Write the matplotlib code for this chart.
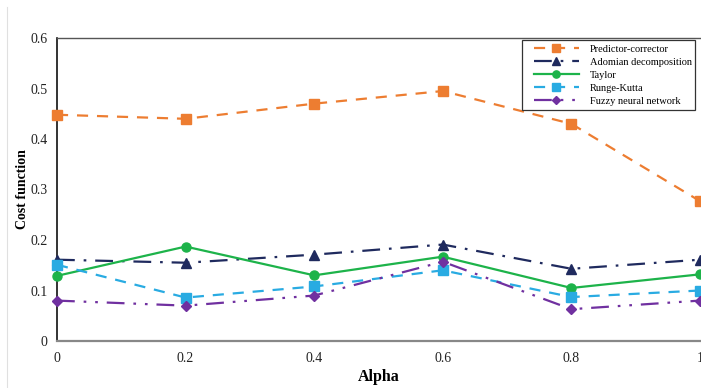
import matplotlib
matplotlib.use("Agg")
import matplotlib.pyplot as plt
from matplotlib.lines import Line2D
from matplotlib.patches import Rectangle

plt.rcParams['font.family'] = ['Liberation Serif', 'DejaVu Serif']

alpha = [0, 0.2, 0.4, 0.6, 0.8, 1.0]
predictor_corrector = [0.448, 0.440, 0.470, 0.495, 0.430, 0.277]
adomian = [0.161, 0.155, 0.171, 0.191, 0.143, 0.161]
taylor = [0.129, 0.187, 0.130, 0.167, 0.105, 0.132]
runge_kutta = [0.151, 0.086, 0.108, 0.140, 0.087, 0.100]
fuzzy_nn = [0.080, 0.070, 0.090, 0.157, 0.063, 0.080]

xticks = [0, 0.2, 0.4, 0.6, 0.8, 1]
xticklabels = ["0", "0.2", "0.4", "0.6", "0.8", "1"]
yticks = [0, 0.1, 0.2, 0.3, 0.4, 0.5, 0.6]
yticklabels = ["0", "0.1", "0.2", "0.3", "0.4", "0.5", "0.6"]

W, H = 701, 388
fig = plt.figure(figsize=(W/100, H/100), dpi=100)
ax = fig.add_axes([57/W, 47/H, 643/W, 303/H])

# faint frame line at left
fig.add_artist(Line2D([7/W, 7/W], [0, 381/H], color='#e0e0e0', lw=0.8, transform=fig.transFigure))

ax.plot(alpha, predictor_corrector, color='#ED7D31', lw=1.6, ls=(0, (5, 4)),
        marker='s', ms=6.5, label='Predictor-corrector', clip_on=False, zorder=3)
ax.plot(alpha, adomian, color='#1F2A5E', lw=1.6, ls=(0, (8, 4, 1.2, 4)),
        marker='^', ms=6.5, label='Adomian decomposition', clip_on=False, zorder=3)
ax.plot(alpha, taylor, color='#1DB34A', lw=1.6, ls='-',
        marker='o', ms=6.5, label='Taylor', clip_on=False, zorder=3)
ax.plot(alpha, runge_kutta, color='#29ABE2', lw=1.6, ls=(0, (5, 4)),
        marker='s', ms=6.5, label='Runge-Kutta', clip_on=False, zorder=3)
ax.plot(alpha, fuzzy_nn, color='#7030A0', lw=1.6, ls=(0, (8, 4, 1.2, 4, 1.2, 4)),
        marker='D', ms=5.5, label='Fuzzy neural network', clip_on=False, zorder=3)

ax.set_xlim(0, 1)
ax.set_ylim(0, 0.6)
ax.set_xticks(xticks)
ax.set_xticklabels(xticklabels)
ax.set_yticks(yticks)
ax.set_yticklabels(yticklabels)
ax.tick_params(axis='both', length=0, labelsize=10, colors='#222222')
ax.tick_params(axis='x', pad=8)
ax.tick_params(axis='y', pad=7)

ax.spines['left'].set_color('#111111')
ax.spines['left'].set_linewidth(1.2)
ax.spines['bottom'].set_color('#888888')
ax.spines['bottom'].set_linewidth(1.6)
ax.spines['top'].set_color('#555555')
ax.spines['top'].set_linewidth(1.0)
ax.spines['right'].set_visible(False)

ax.set_xlabel('Alpha', fontweight='bold', fontsize=11.5, labelpad=3)
ax.set_ylabel('Cost function', fontweight='bold', fontsize=10, labelpad=0.5)

# legend frame drawn manually
frame = Rectangle((522/W, (H-110)/H), 173/W, 70/H, transform=fig.transFigure,
                  facecolor='white', edgecolor='#333333', lw=0.9, zorder=4, clip_on=False)
ax.add_patch(frame)

handles, labels = ax.get_legend_handles_labels()
leg = ax.legend(handles, labels, loc='upper left', bbox_to_anchor=(534/W, (H-44.5)/H),
                bbox_transform=fig.transFigure, fontsize=7.5,
                frameon=False, handlelength=4.3, borderpad=0, labelspacing=0.36,
                handletextpad=1.1, borderaxespad=0, markerscale=0.8)
leg.set_zorder(5)

fig.savefig('out.png', dpi=100)
